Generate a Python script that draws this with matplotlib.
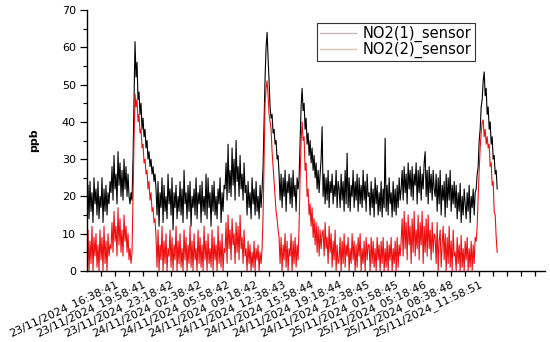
import numpy as np
import matplotlib
matplotlib.use("Agg")
import matplotlib.pyplot as plt
from matplotlib.lines import Line2D

# ---- data (ppb), sampled at a regular interval from the start of the axis ----
series_names = ["NO2(1)_sensor", "NO2(2)_sensor"]
sample_interval_h = 0.11905  # hours between plotted samples

no2_1 = [
    17, 23, 14, 24, 16, 21, 13, 25, 18, 22, 15, 24, 14, 20, 17, 25, 13, 22, 16, 23, 15, 21, 18, 24,
    21, 28, 19, 31, 22, 26, 18, 32, 23, 29, 20, 27, 19, 30, 22, 28, 20, 26,
    20, 18, 21, 19,
    30, 45, 61.5, 52, 56, 46, 48, 42, 45, 38, 41, 36, 38, 33, 35, 30, 32, 28, 30, 26, 28, 24, 26,
    22, 15, 24, 12, 21, 17, 25, 13, 23, 16, 20, 14, 26, 18, 22, 15, 25, 11, 21, 17,
    23, 14, 20, 16, 24, 15, 22, 13, 27, 18, 21, 14, 23, 16, 24, 12, 20, 17, 22, 15,
    25, 14, 21, 18, 23, 13, 24, 16, 20, 15, 26, 14, 25, 17, 21, 12, 23, 16, 24, 15,
    20, 14, 22, 18, 25, 13, 21, 16, 23,
    22, 29, 19, 34, 21, 27, 20, 33, 23, 30, 19, 35, 24, 28, 20, 31, 22, 26, 19, 29, 21,
    23, 15, 24, 17, 21, 14, 25, 18, 22, 15, 24, 16, 20, 14, 23, 17, 22,
    28, 40, 52, 60, 64, 57, 51, 44, 41, 42, 37, 38, 34, 35, 30, 31, 26,
    19, 26, 17, 25, 20, 27, 16, 24, 21, 26, 18, 25, 17, 27, 20, 23, 16, 25, 22,
    25, 35, 44, 49, 43, 45, 38, 41, 34, 37, 31, 35, 29, 33, 27, 31, 25, 29, 22, 27, 21, 26, 30, 38.7,
    20, 26, 18, 25, 19, 27, 17, 24, 21, 26, 18, 23, 20, 27, 17, 24,
    22, 17, 26, 19, 24, 16, 27, 18, 31.6, 17, 25, 16, 23, 20, 27, 17, 24, 19, 26, 16,
    25, 18, 23, 17, 27, 19, 24, 16, 26, 20,
    21, 15, 24, 17, 22, 14.5, 25, 18, 23, 15, 21, 16, 24, 14.5, 22, 17, 35.6, 16, 23, 15,
    25, 18, 21, 14.5, 24, 16, 22, 15, 23, 17, 25, 19,
    22, 27, 19, 28, 21, 26, 18, 29, 22, 27, 20, 28, 19, 26, 23, 29, 18, 27, 21, 28,
    19, 26, 22, 29, 32, 20, 27, 18, 28, 21, 26, 19, 27, 22,
    20, 26, 16, 25, 18, 27, 15, 23, 19, 24, 14.5, 26, 17, 25, 19, 27, 16, 23, 18, 24,
    17, 23, 14, 21, 16, 23.5, 13, 20, 15, 22, 18, 14, 21, 16, 23, 13, 20, 17, 22, 15, 21,
    22, 26, 28, 35, 38, 44, 46, 51, 53.4, 47, 49, 42, 44, 38, 40, 34, 36, 30, 31, 26, 27, 22,
]

no2_2 = [
    5, 11, 0, 8, 2, 12, 0, 9, 4, 10, 1, 7, 0, 11, 3, 9, 0, 12, 2, 8, 0, 10, 4, 7,
    6, 13, 5, 16, 8, 12, 4, 17, 7, 14, 5, 11, 4, 15, 8, 12, 5, 10,
    3, 6, 2, 5,
    20, 35, 47.5, 44, 46, 40, 42, 37, 38, 33, 34, 29, 30, 26, 27, 22, 24, 19, 21, 16, 17, 13, 14,
    9, 1, 11, 0, 7, 3, 12, 0, 8, 2, 10, 0, 6, 4, 11, 1, 9, 0, 7, 3,
    12, 0, 8, 2, 10, 1, 6, 0, 11, 3, 9, 0, 7, 2, 12, 1, 8, 0, 10, 3,
    6, 0, 11, 2, 9, 1, 7, 0, 12, 3, 8, 0, 10, 2, 6, 1, 11, 0, 9, 3,
    7, 0, 12, 2, 8, 1, 10, 0, 6,
    5, 13, 2, 15, 6, 11, 3, 14, 7, 10, 2, 13, 5, 12, 3, 15, 6, 9, 2, 11, 4,
    6, 0, 8, 2, 7, 0, 5, 1, 8, 0, 6, 3, 7, 0, 5, 2, 6,
    15, 30, 45, 49, 51, 47, 42, 40, 38, 32, 28, 24, 20, 16, 14, 11, 9,
    2, 9, 0, 7, 3, 10, 1, 8, 0, 6, 4, 10, 0, 8, 2, 9, 1, 7, 3,
    12, 25, 35, 40, 35, 36, 27, 29, 20, 22, 15, 18, 12, 17, 9, 14, 7, 13, 5, 12, 4, 11, 6, 10,
    11, 4, 13, 6, 9, 2, 12, 5, 10, 1, 8, 3, 11, 0, 7, 2,
    3, 9, 0, 8, 2, 10, 1, 7, 4, 9, 0, 6, 2, 10, 3, 8, 0, 7, 1, 9,
    4, 10, 0, 6, 2, 8, 0, 9, 3, 7,
    7, 0, 9, 2, 8, 1, 6, 0, 9, 3, 7, 0, 8, 2, 9, 0, 6, 1, 8, 0,
    7, 3, 9, 0, 6, 2, 8, 0, 9, 1, 7, 4,
    8, 14, 4, 16, 6, 13, 3, 15, 7, 12, 2, 14, 5, 16, 4, 11, 6, 15, 3, 13,
    7, 16, 2, 12, 5, 14, 4, 15, 6, 11, 3, 13, 5, 10,
    9, 2, 13, 0, 8, 11, 1, 7, 12, 3, 10, 0, 9, 2, 12, 1, 8, 0, 11, 4,
    5, 0, 9, 2, 7, 0, 9.5, 1, 6, 0, 8, 3, 9, 0, 6, 1, 8, 0, 7, 2, 9,
    8, 12, 20, 27, 33, 37, 40, 40.5, 36, 38, 34, 36, 33, 34, 28, 29, 23, 24, 16, 15, 9, 5,
]

tick_labels = [
    "23/11/2024_16:38:41", "23/11/2024_19:58:41", "23/11/2024_23:18:42",
    "24/11/2024_02:38:42", "24/11/2024_05:58:42", "24/11/2024_09:18:42",
    "24/11/2024_12:38:43", "24/11/2024_15:58:44", "24/11/2024_19:18:44",
    "24/11/2024_22:38:45", "25/11/2024_01:58:45", "25/11/2024_05:18:46",
    "25/11/2024_08:38:48", "25/11/2024_11:58:51",
]
label_step_h = 10 / 3.0   # 3h20m between labelled ticks
x_max_h = 54.5

t1 = np.arange(len(no2_1)) * sample_interval_h
t2 = np.arange(len(no2_2)) * sample_interval_h

plt.rcParams["font.family"] = ["DejaVu Sans"]
fig = plt.figure(figsize=(5.5, 3.42), dpi=100)
ax = fig.add_axes([87 / 550, 1 - 271 / 342, (545 - 87) / 550, (271 - 10) / 342])

ax.plot(t1, no2_1, color="#000000", lw=0.8)
ax.plot(t2, no2_2, color="#ee1111", lw=0.8)

ax.set_xlim(0, x_max_h)
ax.set_ylim(0, 70)

major = np.arange(1, len(tick_labels) + 1) * label_step_h
ax.set_xticks(major)
ax.set_xticks(np.arange(1, 33) * label_step_h / 2, minor=True)
ax.set_xticklabels(tick_labels, rotation=25, ha="right", va="top",
                   rotation_mode="anchor", fontsize=8)
ax.set_yticks(np.arange(0, 71, 10))
ax.set_yticks(np.arange(0, 71, 5), minor=True)
ax.tick_params(axis="y", which="major", length=5, width=0.9, labelsize=8, pad=3)
ax.tick_params(axis="y", which="minor", length=3, width=0.8)
ax.tick_params(axis="x", which="both", length=3.5, width=0.9, pad=2)

for s in ("top", "right"):
    ax.spines[s].set_visible(False)
for s in ("left", "bottom"):
    ax.spines[s].set_linewidth(1.0)

ax.set_ylabel("ppb", fontsize=8, fontweight="bold", labelpad=16)

handles = [Line2D([], [], color="#c4b8b8", lw=1.0),
           Line2D([], [], color="#d4c6b0", lw=1.0)]
leg = fig.legend(handles, series_names, loc="upper left",
                 bbox_to_anchor=(317 / 550, 1 - 23 / 342),
                 fontsize=10.5, frameon=True, fancybox=False, shadow=False,
                 handlelength=2.5, handletextpad=0.45, labelspacing=0.0,
                 borderpad=0.2, borderaxespad=0)
leg.get_frame().set_edgecolor("black")
leg.get_frame().set_linewidth(0.8)

fig.savefig("out.png", dpi=100)
